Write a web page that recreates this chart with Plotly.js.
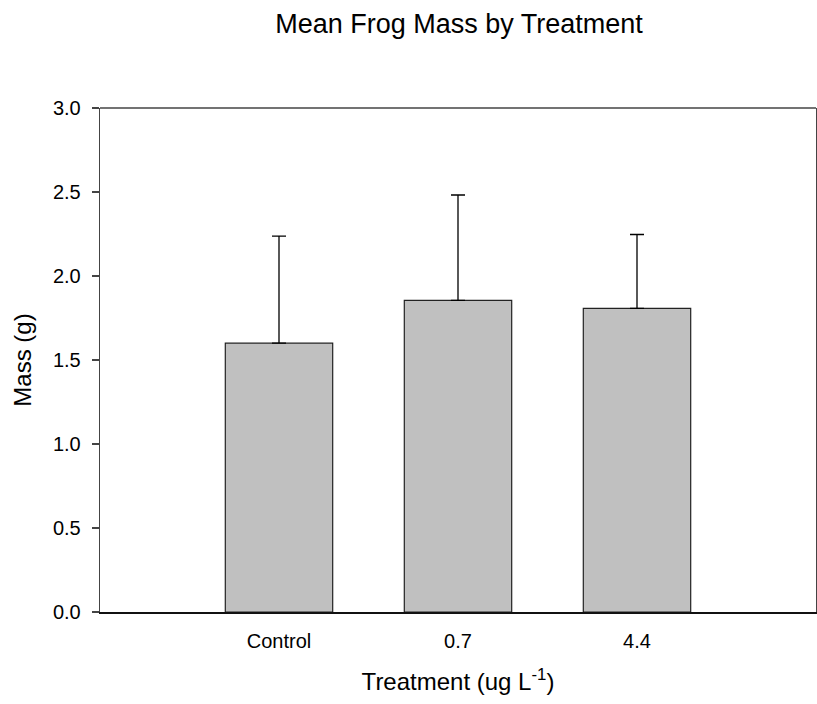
<!DOCTYPE html>
<html><head><meta charset="utf-8">
<script src="https://cdn.plot.ly/plotly-3.0.1.min.js"></script>
<style>body{margin:0;padding:0;background:#fff}#chart{width:817px;height:704px}</style>
</head><body><div id="chart"></div>
<script>
const categories = ["Control", "0.7", "4.4"];
const means = [1.60, 1.855, 1.807];
const errors = [0.637, 0.627, 0.44];
const yTicks = [0, 0.5, 1.0, 1.5, 2.0, 2.5, 3.0];
const yTickLabels = ["0.0", "0.5", "1.0", "1.5", "2.0", "2.5", "3.0"];

const fontFam = "Liberation Sans, Arial, sans-serif";
const trace = {
  type: "bar",
  x: [0, 1, 2],
  y: means,
  width: 0.6,
  marker: {color: "#c0c0c0", line: {color: "#222", width: 1.2}},
  error_y: {type: "data", array: errors, symmetric: false, arrayminus: [0,0,0], color: "#000", thickness: 1.3, width: 7},
  hoverinfo: "skip"
};
const layout = {
  width: 817, height: 704,
  margin: {l: 100, r: 1, t: 108, b: 92},
  paper_bgcolor: "#fff", plot_bgcolor: "#fff",
  font: {family: fontFam, color: "#000"},
  showlegend: false,
  title: {text: "Mean Frog Mass by Treatment", font: {size: 27, family: fontFam, color: "#000"}, x: 0.5618, xanchor: "center", y: 0.966, yanchor: "middle"},
  xaxis: {
    range: [-1, 3], tickmode: "array", tickvals: [0, 1, 2], ticktext: categories,
    ticks: "", showgrid: false, zeroline: false, showline: true, linecolor: "#111", linewidth: 2,
    tickfont: {size: 20}, ticklabelstandoff: 10,
    title: {text: "Treatment (ug L<sup>-1</sup>)", font: {size: 24}, standoff: 22}
  },
  yaxis: {
    range: [0, 3], tickmode: "array", tickvals: yTicks, ticktext: yTickLabels,
    ticks: "outside", ticklen: 7, tickcolor: "#444", tickwidth: 1.2,
    showgrid: false, zeroline: false, showline: true, linecolor: "#444", linewidth: 1.3, mirror: true,
    tickfont: {size: 20}, ticklabelstandoff: 7,
    title: {text: "Mass (g)", font: {size: 24}, standoff: 14}
  },
  shapes: [{type: "line", xref: "paper", yref: "paper", x0: 0, x1: 1, y0: 1, y1: 1, line: {color: "#444", width: 1.5}}]
};
Plotly.newPlot("chart", [trace], layout, {staticPlot: true, displayModeBar: false});
</script></body></html>
